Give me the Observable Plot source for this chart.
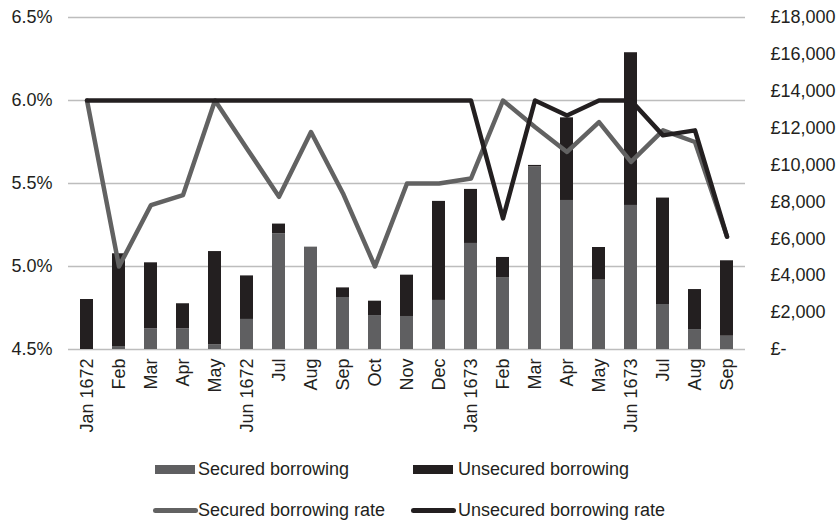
<!DOCTYPE html>
<html>
<head>
<meta charset="utf-8">
<script src="https://cdn.jsdelivr.net/npm/d3@7"></script>
<script src="https://cdn.jsdelivr.net/npm/@observablehq/plot@0.6"></script>
<style>
  body { margin: 0; background: #fff; font-family: "Liberation Sans", Arial, sans-serif; color: #231f20; }
  #wrap { position: relative; width: 839px; height: 522px; overflow: hidden; }
  .lg { position: absolute; font-size: 18px; line-height: 20px; white-space: nowrap; }
  .sw { position: absolute; }
</style>
</head>
<body>
<div id="wrap">
  <div id="chart"></div>
  <div class="sw" style="left:155px;top:465px;width:40px;height:9px;background:#5f5f61"></div>
  <div class="lg" style="left:198px;top:459px">Secured borrowing</div>
  <div class="sw" style="left:413px;top:465px;width:40px;height:9px;background:#231f20"></div>
  <div class="lg" style="left:458px;top:459px">Unsecured borrowing</div>
  <div class="sw" style="left:153px;top:508px;width:45px;height:5px;border-radius:3px;background:#626262"></div>
  <div class="lg" style="left:198px;top:500px">Secured borrowing rate</div>
  <div class="sw" style="left:411px;top:508px;width:45px;height:5px;border-radius:3px;background:#231f20"></div>
  <div class="lg" style="left:458px;top:500px">Unsecured borrowing rate</div>
</div>
<script>
const keys = ["1672-01","1672-02","1672-03","1672-04","1672-05","1672-06","1672-07","1672-08","1672-09","1672-10","1672-11","1672-12",
              "1673-01","1673-02","1673-03","1673-04","1673-05","1673-06","1673-07","1673-08","1673-09"];
const labels = ["Jan 1672","Feb","Mar","Apr","May","Jun 1672","Jul","Aug","Sep","Oct","Nov","Dec",
                "Jan 1673","Feb","Mar","Apr","May","Jun 1673","Jul","Aug","Sep"];
// Borrowing amounts (£)
const securedBorrowing   = [0,160,1120,1120,250,1630,6270,5550,2820,1840,1790,2660,5750,3900,9900,8080,3760,7810,2440,1080,720];
const unsecuredBorrowing = [2710,5030,3580,1360,5060,2360,530,0,520,780,2240,5370,2930,1090,80,4480,1770,8280,5770,2170,4090];
// Rates (%)
const securedRate   = [6.0,5.0,5.37,5.43,6.0,5.71,5.42,5.81,5.44,5.0,5.5,5.5,5.53,6.0,5.84,5.69,5.87,5.63,5.82,5.75,5.18];
const unsecuredRate = [6.0,6.0,6.0,6.0,6.0,6.0,6.0,6.0,6.0,6.0,6.0,6.0,6.0,5.29,6.0,5.91,6.0,6.0,5.79,5.82,5.18];
// Axis ticks
const rateTicks = [4.5,5.0,5.5,6.0,6.5];
const moneyTicks = [0,2000,4000,6000,8000,10000,12000,14000,16000,18000];

const rateMin = 4.5, rateMax = 6.5, moneyMax = 18000;
const toMoney = r => (r - rateMin) / (rateMax - rateMin) * moneyMax;

const bars = [];
keys.forEach((k, i) => {
  bars.push({key: k, series: "Secured borrowing", value: securedBorrowing[i]});
  bars.push({key: k, series: "Unsecured borrowing", value: unsecuredBorrowing[i]});
});
const secLine = keys.map((k, i) => ({key: k, v: toMoney(securedRate[i])}));
const unsLine = keys.map((k, i) => ({key: k, v: toMoney(unsecuredRate[i])}));

const font = "Liberation Sans, Arial, sans-serif";
const chart = Plot.plot({
  width: 839,
  height: 440,
  marginTop: 17,
  marginBottom: 91,
  marginLeft: 68,
  marginRight: 94,
  style: {fontFamily: font, fontSize: "18px", color: "#231f20", background: "#fff"},
  x: {domain: keys, paddingInner: 0.6, paddingOuter: 0.3, axis: null, label: null},
  y: {domain: [0, moneyMax], axis: null, label: null},
  color: {domain: ["Secured borrowing", "Unsecured borrowing"], range: ["#5f5f61", "#231f20"]},
  marks: [
    Plot.gridY(rateTicks.map(toMoney), {stroke: "#bdbdbd", strokeOpacity: 1, strokeWidth: 1.5}),
    Plot.barY(bars, {x: "key", y: "value", fill: "series"}),
    Plot.line(secLine, {x: "key", y: "v", stroke: "#626262", strokeWidth: 4.5}),
    Plot.line(unsLine, {x: "key", y: "v", stroke: "#231f20", strokeWidth: 4.5}),
    Plot.axisX({tickRotate: -90, tickSize: 0, tickPadding: 9, fontSize: 18, fill: "#231f20", label: null,
      tickFormat: k => labels[keys.indexOf(k)]}),
    Plot.axisY(rateTicks.map(toMoney), {anchor: "left", tickSize: 0, tickPadding: 16, fontSize: 18, fill: "#231f20", label: null,
      tickFormat: m => (rateMin + m / moneyMax * (rateMax - rateMin)).toFixed(1) + "%"}),
    Plot.axisY(moneyTicks, {anchor: "right", tickSize: 0, tickPadding: 25, fontSize: 18, fill: "#231f20", label: null,
      tickFormat: d => d === 0 ? "£-" : "£" + d3.format(",")(d)})
  ]
});
document.getElementById("chart").appendChild(chart);
</script>
</body>
</html>
